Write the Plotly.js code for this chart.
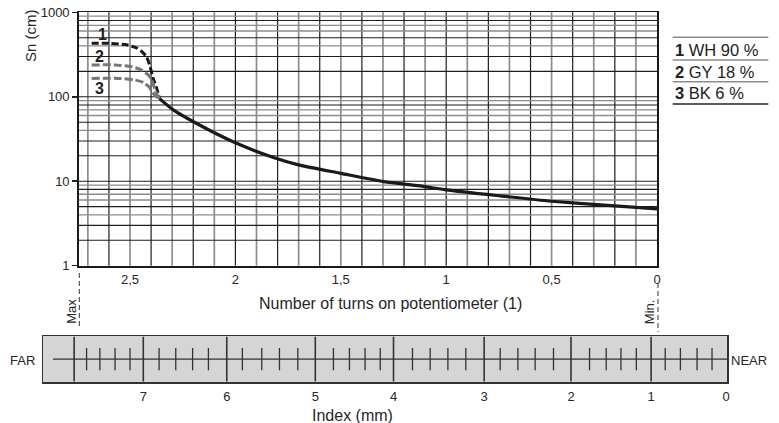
<!DOCTYPE html>
<html><head><meta charset="utf-8">
<script src="https://cdn.plot.ly/plotly-3.0.1.min.js"></script>
<style>html,body{margin:0;padding:0;background:#fff}#chart{width:779px;height:423px}</style>
</head><body><div id="chart"></div>
<script>
// ---------- data ----------
// main curve: Sn (cm) vs number of turns on potentiometer
const solidTurns = [2.36, 2.295, 2.168, 2.0, 1.816, 1.70, 1.50, 1.296, 1.124, 1.0, 0.743, 0.5, 0.2, 0];
const solidSn    = [95,   70,    46,    28.5, 19,   15.6, 12.4, 9.9,   8.8,   7.9, 6.7,   5.8, 5.1, 4.7];
// near-maximum branches for the three target reflectivities
const wh90Turns = [2.682, 2.60, 2.516, 2.47, 2.445, 2.421, 2.405, 2.39, 2.373, 2.36];
const wh90Sn    = [430,   430,  412,   380,  345,   295,   228,   165,  125,   95];
const gy18Turns = [2.682, 2.571, 2.492, 2.445, 2.413, 2.394, 2.381, 2.366, 2.36];
const gy18Sn    = [238,   238,   227,   207,   181,   151,   120,   100,   95];
const bk6Turns  = [2.682, 2.556, 2.477, 2.437, 2.41, 2.39, 2.369, 2.36];
const bk6Sn     = [165,   165,   158,   148,   131,  110,  98,    95];
const seriesNums   = ['1', '2', '3'];
const seriesLabels = ['WH 90 %', 'GY 18 %', 'BK 6 %'];

// axis ticks
const turnTicks      = [0, 0.5, 1, 1.5, 2, 2.5];
const turnTickLabels = ['0', '0,5', '1', '1,5', '2', '2,5'];
const snTicks      = [1, 10, 100, 1000];
const snTickLabels = ['1', '10', '100', '1000'];
// grid lines
const turnGridDark  = [0.2, 0.4, 0.6, 0.8, 1.0, 1.2, 1.4, 1.6, 1.8, 2.0, 2.2, 2.4, 2.6];
const turnGridLight = [0.1, 0.3, 0.5, 0.7, 0.9, 1.1, 1.3, 1.5, 1.7, 1.9, 2.1, 2.3, 2.5, 2.7];
const snGridDark  = [2, 3, 5, 8, 10, 20, 30, 50, 80, 100, 200, 300, 500, 800];
const snGridLight = [4, 6, 7, 9, 40, 60, 70, 90, 400, 600, 700, 900];

// index ruler (positions expressed in turns of the potentiometer)
const indexPos    = [2.437, 2.041, 1.621, 1.250, 0.820, 0.408, 0.028, -0.328];
const indexLabels = ['7', '6', '5', '4', '3', '2', '1', '0'];
const rulerMajor  = [2.765, 2.437, 2.041, 1.621, 1.250, 0.820, 0.408, 0.028];
const rulerMinor  = [2.706, 2.643, 2.571, 2.500, 2.362, 2.283, 2.203, 2.128,
                     1.967, 1.875, 1.791, 1.704, 1.535, 1.459, 1.385, 1.313,
                     1.160, 1.076, 0.992, 0.907, 0.744, 0.660, 0.578, 0.491,
                     0.320, 0.241, 0.171, 0.098, -0.039, -0.111, -0.190, -0.261];

// ---------- layout helpers ----------
const W = 779, H = 423;
const px = x => x / W, py = y => 1 - y / H;
const FONT = 'Liberation Sans, Arial, Helvetica, sans-serif';
const TXT = '#262626';
const plotL = 79, plotR = 657, plotT = 12.3, plotB = 265.7;
const turnMax = 2.742;
const snLogMax = 3;
const k = (plotR - plotL) / turnMax;           // px per turn
const rulerL = 43, rulerR = 727, rulerT = 336, rulerB = 382.3;
const rulerRange = [(plotR - rulerL) / k, (plotR - rulerR) / k];

const traces = [
  {x: solidTurns, y: solidSn, mode: 'lines', xaxis: 'x', yaxis: 'y',
   line: {color: '#1a1a1a', width: 3.2, shape: 'spline', smoothing: 0.7}, hoverinfo: 'skip'},
  {x: wh90Turns, y: wh90Sn, mode: 'lines', xaxis: 'x', yaxis: 'y',
   line: {color: '#1a1a1a', width: 3, dash: '7px,3px', shape: 'spline', smoothing: 0.6}, hoverinfo: 'skip'},
  {x: gy18Turns, y: gy18Sn, mode: 'lines', xaxis: 'x', yaxis: 'y',
   line: {color: '#777777', width: 3, dash: '8px,3px', shape: 'spline', smoothing: 0.6}, hoverinfo: 'skip'},
  {x: bk6Turns, y: bk6Sn, mode: 'lines', xaxis: 'x', yaxis: 'y',
   line: {color: '#777777', width: 3, dash: '8px,3px', shape: 'spline', smoothing: 0.6}, hoverinfo: 'skip'},
  {x: rulerMinor, y: rulerMinor.map(() => 0), mode: 'markers', xaxis: 'x2', yaxis: 'y2',
   marker: {symbol: 'line-ns', size: 16, color: '#333', line: {color: '#333', width: 1.3}}, hoverinfo: 'skip'},
  {x: rulerMajor, y: rulerMajor.map(() => 0), mode: 'markers', xaxis: 'x2', yaxis: 'y2',
   marker: {symbol: 'line-ns', size: 32, color: '#333', line: {color: '#333', width: 1.6}}, hoverinfo: 'skip'}
];

const xDom = [px(plotL), px(plotR)];
const yDom = [py(plotB), py(plotT)];

const shapes = [];
// grid (drawn below the curves)
turnGridLight.forEach(v => shapes.push({type: 'line', xref: 'x', yref: 'y domain', x0: v, x1: v, y0: 0, y1: 1,
  layer: 'below', line: {color: '#8c8c8c', width: 1.7}}));
turnGridDark.forEach(v => shapes.push({type: 'line', xref: 'x', yref: 'y domain', x0: v, x1: v, y0: 0, y1: 1,
  layer: 'below', line: {color: '#1e1e1e', width: 1.2}}));
snGridLight.forEach(v => shapes.push({type: 'line', xref: 'x domain', yref: 'y domain', x0: 0, x1: 1,
  y0: Math.log10(v) / snLogMax, y1: Math.log10(v) / snLogMax, layer: 'below', line: {color: '#8c8c8c', width: 1.4}}));
snGridDark.forEach(v => shapes.push({type: 'line', xref: 'x domain', yref: 'y domain', x0: 0, x1: 1,
  y0: Math.log10(v) / snLogMax, y1: Math.log10(v) / snLogMax, layer: 'below', line: {color: '#1e1e1e', width: 1.1}}));
// ruler box and centre line
shapes.push({type: 'rect', xref: 'x2 domain', yref: 'y2 domain', x0: 0, x1: 1, y0: 0, y1: 1,
  fillcolor: '#d5d5d5', line: {width: 0}, layer: 'below'});
shapes.push({type: 'line', xref: 'x2 domain', yref: 'y2', x0: (53 - rulerL) / (rulerR - rulerL), x1: 1, y0: 0, y1: 0,
  line: {color: '#333', width: 1.3}});
// Max / Min markers
shapes.push({type: 'line', xref: 'paper', yref: 'paper', x0: px(79.3), x1: px(79.3), y0: py(273), y1: py(328.5),
  line: {color: '#333', width: 1, dash: '5px,3px'}});
shapes.push({type: 'line', xref: 'paper', yref: 'paper', x0: px(658), x1: px(658), y0: py(283), y1: py(332),
  line: {color: '#333', width: 1, dash: '5px,3px'}});
// legend table rules
[[37.3, '#8c8c8c'], [60, '#8c8c8c'], [81.7, '#8c8c8c'], [104, '#222']].forEach(r =>
  shapes.push({type: 'line', xref: 'paper', yref: 'paper', x0: px(672.7), x1: px(768.3), y0: py(r[0]), y1: py(r[0]),
    line: {color: r[1], width: 1.5}}));

const layout = {
  width: W, height: H, margin: {l: 0, r: 0, t: 0, b: 0},
  paper_bgcolor: '#fff', plot_bgcolor: '#fff', showlegend: false,
  font: {family: FONT, color: TXT, size: 13},
  xaxis: {domain: xDom, range: [turnMax, 0], anchor: 'y',
    tickvals: turnTicks, ticktext: turnTickLabels, ticks: '', showgrid: false, zeroline: false,
    showline: true, mirror: true, linecolor: '#1a1a1a', linewidth: 1.8,
    tickfont: {size: 13, color: TXT}, ticklabelstandoff: 1, automargin: false},
  yaxis: {domain: yDom, type: 'log', range: [0, snLogMax], anchor: 'x',
    tickvals: snTicks, ticktext: snTickLabels, ticks: 'outside', ticklen: 5, tickwidth: 1.5,
    tickcolor: '#222', showgrid: false, zeroline: false,
    showline: true, mirror: true, linecolor: '#1a1a1a', linewidth: 1.8,
    tickfont: {size: 13, color: TXT}, automargin: false},
  xaxis2: {domain: [px(rulerL), px(rulerR)], range: rulerRange, anchor: 'y2',
    tickvals: indexPos, ticktext: indexLabels, ticks: '', showgrid: false, zeroline: false,
    showline: true, mirror: true, linecolor: '#333', linewidth: 1.5,
    tickfont: {size: 13, color: TXT}, ticklabelstandoff: 2, automargin: false},
  yaxis2: {domain: [py(rulerB), py(rulerT)], range: [-1, 1], anchor: 'x2',
    showticklabels: false, ticks: '', showgrid: false, zeroline: false,
    showline: true, mirror: true, linecolor: '#333', linewidth: 1.5, automargin: false},
  shapes: shapes,
  annotations: []
};

function note(text, x, y, opts) {
  layout.annotations.push(Object.assign({
    text: text, x: px(x), y: py(y), xref: 'paper', yref: 'paper', showarrow: false,
    xanchor: 'center', yanchor: 'middle', font: {size: 13, color: TXT, family: FONT}
  }, opts || {}));
}
note('Sn (cm)', 30, 36, {textangle: -90, font: {size: 15, color: TXT, family: FONT}});
note('Number of turns on potentiometer (1)', 390, 303, {font: {size: 16, color: TXT, family: FONT}});
note('Index (mm)', 352, 415, {font: {size: 16, color: TXT, family: FONT}});
note('FAR', 22, 360, {font: {size: 13, color: TXT, family: FONT}});
note('NEAR', 749, 360, {font: {size: 13, color: TXT, family: FONT}});
note('Max', 70.8, 311, {textangle: -90});
note('Min.', 649.2, 312, {textangle: -90});
const numPos = [[102.5, 34], [99.7, 57], [99, 89]];
seriesNums.forEach((n, i) => note('<b>' + n + '</b>', numPos[i][0], numPos[i][1],
  {font: {size: 16, color: '#222', family: FONT}}));
const legY = [50, 71.7, 93.2];
seriesLabels.forEach((s, i) => note('<b>' + seriesNums[i] + '</b> ' + s, 672.7, legY[i],
  {xanchor: 'left', font: {size: 16.5, color: '#222', family: FONT}}));

Plotly.newPlot('chart', traces, layout, {staticPlot: true, displayModeBar: false});
</script>
</body></html>
